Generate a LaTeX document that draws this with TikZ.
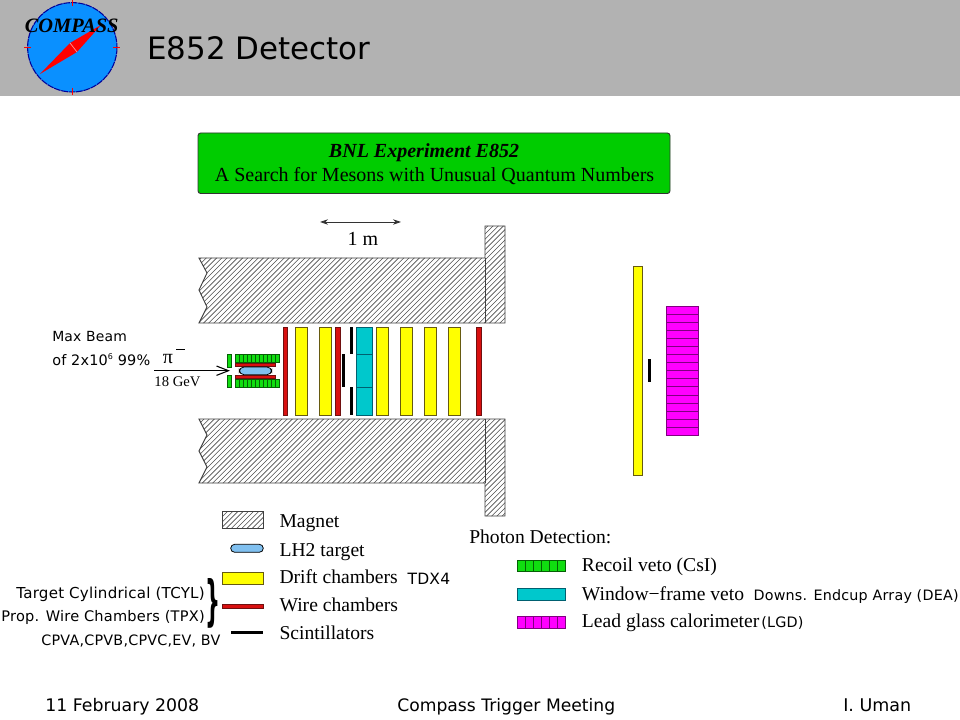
\documentclass[tikz,border=0pt]{standalone}
\usepackage{fontspec}
\usepackage{graphicx}
\usetikzlibrary{arrows.meta}
\setmainfont{Liberation Serif}
\newfontfamily\hand[LetterSpace=1.5]{DejaVu Sans}
\newfontfamily\handp{DejaVu Sans}
\newcommand{\fitw}[2]{\resizebox{\dimexpr#1pt*3/4\relax}{!}{#2}}
\definecolor{hdr}{HTML}{B2B2B2}
\definecolor{logob}{HTML}{0A90FF}
\definecolor{tgt}{HTML}{80C0F0}
\definecolor{boxg}{HTML}{00CC00}
\definecolor{cyel}{HTML}{FFFF00}
\definecolor{cyelb}{HTML}{665A10}
\definecolor{cred}{HTML}{D81010}
\definecolor{credb}{HTML}{701010}
\definecolor{ccy}{HTML}{00C8CC}
\definecolor{ccyb}{HTML}{006070}
\definecolor{cgr}{HTML}{10DD10}
\definecolor{cgrb}{HTML}{056005}
\definecolor{cmg}{HTML}{FF00FF}
\definecolor{cmgb}{HTML}{800080}
\tikzset{
  x=0.75pt,y=-0.75pt,
  ser/.style={inner sep=0pt,font=\fontsize{14.7}{15}\selectfont,anchor=base west},
  foot/.style={inner sep=0pt,font=\handp\fontsize{13}{14}\selectfont,anchor=base west},
  small/.style={inner sep=0pt,font=\hand\fontsize{10}{10}\selectfont},
  yel/.style={fill=cyel,draw=cyelb,line width=0.7pt},
  redb/.style={fill=cred,draw=credb,line width=0.6pt},
  cyanb/.style={fill=ccy,draw=ccyb,line width=0.7pt},
  blk/.style={fill=black,draw=none},
  grn/.style={fill=cgr,draw=cgrb,line width=0.5pt},
  mag/.style={fill=cmg,draw=cmgb,line width=0.6pt},
  outl/.style={draw=black!75,line width=0.7pt},
}
\newcommand{\hatchlines}[4]{%
  \begin{scope}
    \clip #1;
    \foreach \k in {#2,...,#3} {
      \draw[black!70,line width=0.45pt] (\k*5.2,#4) -- ++(-110,110);
    }
  \end{scope}}
\begin{document}
\begin{tikzpicture}
\useasboundingbox (0,0) rectangle (960,720);
\fill[white] (0,0) rectangle (960,720);
\fill[hdr] (0,0) rectangle (960,96);
% logo
\fill[logob] (72.3,47.3) circle[radius=44.7];
\draw[blue!60!black,line width=0.8pt,dash pattern=on 5pt off 0.6pt] (72.3,47.3) circle[radius=44.7];
\foreach \a/\b/\c/\d in {24/47.3/31/47.3,113/47.3/120/47.3,72.3/0/72.3/6,72.3/88/72.3/95}{
  \draw[red,line width=0.6pt] (\a,\b) -- (\c,\d);}
\fill[red] (40,74) -- (70,43) -- (101,25) -- (77,52) -- cycle;
\draw[red!40!white,line width=0.5pt] (70,43) -- (77,52);
\node[inner sep=0pt,anchor=base,font=\bfseries\itshape\fontsize{15.3}{17}\selectfont] (logotxt) at (71.7,33) {COMPASS};
\node[inner sep=0pt,font=\handp\fontsize{23}{24}\selectfont,anchor=base west] (title) at (147,60) {\fitw{223}{E852 Detector}};
% green box
\draw[fill=boxg,draw=black!80,line width=0.7pt,rounded corners=2pt] (198,133) rectangle (670,193.5);
\node[inner sep=0pt,anchor=base,font=\bfseries\itshape\fontsize{15}{15}\selectfont] (t1) at (424,157.5) {BNL Experiment E852};
\node[inner sep=0pt,anchor=base,font=\fontsize{15}{15}\selectfont] (t2) at (434.5,182) {A Search for Mesons with Unusual Quantum Numbers};
% scale
\coordinate (sa) at (320,222); \coordinate (sb) at (401,222);
\draw[{Stealth[length=6pt,width=4pt]}-{Stealth[length=6pt,width=4pt]},draw=black!80,line width=0.6pt] (sa) -- (sb);
\node[inner sep=0pt,anchor=base,font=\fontsize{15}{15}\selectfont] (onem) at (363,246) {1 m};
% magnets
\def\upperm{(199,258) -- (485,258) -- (485,226) -- (505,226) -- (505,323) -- (199,323) -- (207,307) -- (199,290) -- (207,273) -- cycle}
\def\lowerm{(199,419) -- (485,419) -- (505,419) -- (505,516) -- (485,516) -- (485,483) -- (199,483) -- (207,467) -- (199,451) -- (207,435) -- cycle}
\hatchlines{\upperm}{38}{118}{225}
\hatchlines{\lowerm}{38}{118}{415}
\draw[outl] \upperm;
\draw[outl] \lowerm;
\draw[outl] (485,258) -- (485,323);
\draw[outl] (485,419) -- (485,483);
% chambers
\foreach \a/\b in {295.7/307.7,319.7/331.7,376/388,400.3/412.3,424.3/436.3,448.3/460.7}{
  \draw[yel] (\a,327) rectangle (\b,415);}
\foreach \a/\b in {283.3/287.3,335.7/340,476.7/481}{
  \draw[redb] (\a,327) rectangle (\b,415);}
\fill[blk] (350,327) rectangle (353,354);
\fill[blk] (342,354) rectangle (345,387);
\fill[blk] (350,387) rectangle (353,415);
\draw[cyanb] (356,327) rectangle (372,415);
\draw[cyanb] (356,354.3) -- (372,354.3);
\draw[cyanb] (356,387) -- (372,387);
% target
\draw[grn] (227,354.3) rectangle (231.7,367.7);
\draw[grn] (227,375) rectangle (231.7,387.7);
\fill[cgr] (235,354.7) rectangle (279.3,362.3);
\fill[cgr] (235,379.2) rectangle (279.3,387);
\foreach \i in {0,...,11}{
  \draw[cgrb,line width=0.4pt] (235+\i*4.03,354.7) -- ++(0,7.6);
  \draw[cgrb,line width=0.4pt] (235+\i*4.03,379.2) -- ++(0,7.8);}
\draw[cgrb,line width=0.5pt] (235,354.7) rectangle (279.3,362.3);
\draw[cgrb,line width=0.5pt] (235,379.2) rectangle (279.3,387);
\draw[redb] (235,363.3) rectangle (275.7,366.7);
\draw[redb] (235,375) rectangle (275.7,378.7);
\draw[fill=tgt,draw=black,line width=0.6pt,rounded corners=3.5pt] (239.3,367) rectangle (271.7,374.7);
% beam
\coordinate (ba) at (154,370.7); \coordinate (bb) at (230,370.7);
\draw[-{Straight Barb[length=9pt,width=7pt]},line width=0.8pt] (ba) -- (bb);
\node[inner sep=0pt,anchor=base,font=\fontsize{15}{15}\selectfont] (pi) at (168,363.3) {π};
\draw[line width=0.5pt] (176,349) -- (185,349);
\node[inner sep=0pt,anchor=base,font=\fontsize{11}{12}\selectfont] (gev) at (177.5,386.7) {18 GeV};
\node[small,anchor=base west] (mb) at (52,341.7) {\fitw{74.7}{Max Beam}};
\node[small,anchor=base west] (of) at (52,365) {\fitw{98}{of 2x10\raisebox{3.5pt}{\fontsize{5.5}{6}\selectfont 6} 99\%}};
% right
\draw[yel] (633.7,266.3) rectangle (642,475.7);
\fill[blk] (648,358.7) rectangle (651,382.3);
\fill[cmg] (666,306.3) rectangle (698.3,435.3);
\foreach \i in {1,...,15}{
  \draw[cmgb,line width=0.7pt] (666,306.3+\i*8.0625) -- (698.3,306.3+\i*8.0625);}
\draw[cmgb,line width=0.6pt] (666,306.3) rectangle (698.3,435.3);
% legend
\hatchlines{(222.7,511.7) rectangle (263.3,528)}{44}{66}{505}
\draw[outl] (222.7,511.7) rectangle (263.3,528);
\draw[fill=tgt,draw=black,line width=0.6pt,rounded corners=3pt] (230.7,544.3) rectangle (263.3,552.3);
\draw[yel] (222.7,572) rectangle (263.3,584);
\draw[redb] (222.7,604) rectangle (263.3,608.3);
\fill[blk] (230.7,630.7) rectangle (263.3,634);
\node[ser] (l1) at (279.3,527.7) {Magnet};
\node[ser] (l2) at (279.3,556) {LH2 target};
\node[ser] (l3) at (279.3,583.8) {Drift chambers};
\node[ser] (l4) at (279.3,611.7) {Wire chambers};
\node[ser] (l5) at (279.3,639.8) {Scintillators};
\node[small,anchor=base west] (tdx) at (407.3,584.3) {\fitw{42.7}{TDX4}};
\node[small,anchor=base east] (tcyl) at (205,598.3) {\fitw{188.3}{Target Cylindrical (TCYL)}};
\node[small,anchor=base east] (tpx) at (205,621.7) {\fitw{203.3}{Prop. Wire Chambers (TPX)}};
\node[small,anchor=base east] (cpv) at (220.7,645.7) {\fitw{179}{CPVA,CPVB,CPVC,EV, BV}};
\node[inner sep=0pt,font=\handp\bfseries\fontsize{32}{32}\selectfont] (br) at (212.5,603.5) {\resizebox{11.25pt}{30.75pt}{\}}};
% photon
\node[ser] (p0) at (469,543.3) {Photon Detection:};
\fill[cgr] (517,560) rectangle (565.7,571.7);
\fill[cmg] (517,616.7) rectangle (565.7,628.7);
\foreach \i in {1,...,5}{
  \draw[cgrb,line width=0.5pt] (517+\i*8.1,560) -- ++(0,11.7);
  \draw[cmgb,line width=0.5pt] (517+\i*8.1,616.7) -- ++(0,12);}
\draw[cgrb,line width=0.6pt] (517,560) rectangle (565.7,571.7);
\draw[cmgb,line width=0.6pt] (517,616.7) rectangle (565.7,628.7);
\draw[cyanb] (517,588.3) rectangle (565.7,600.7);
\node[ser] (p1) at (581.7,571.7) {Recoil veto (CsI)};
\node[ser] (p2) at (581.7,600) {Window−frame veto};
\node[ser] (p3) at (581.7,627.7) {Lead glass calorimeter};
\node[small,anchor=base west] (dea) at (753.3,600) {\fitw{205}{Downs. Endcup Array (DEA)}};
\node[small,anchor=base west] (lgd) at (761,627.3) {\fitw{42.3}{(LGD)}};
% footer
\node[foot] (f1) at (45,711) {\fitw{154}{11 February 2008}};
\node[foot] (f2) at (397,711) {\fitw{218}{Compass Trigger Meeting}};
\node[foot] (f3) at (843,711) {\fitw{68}{I. Uman}};
\end{tikzpicture}
\end{document}
